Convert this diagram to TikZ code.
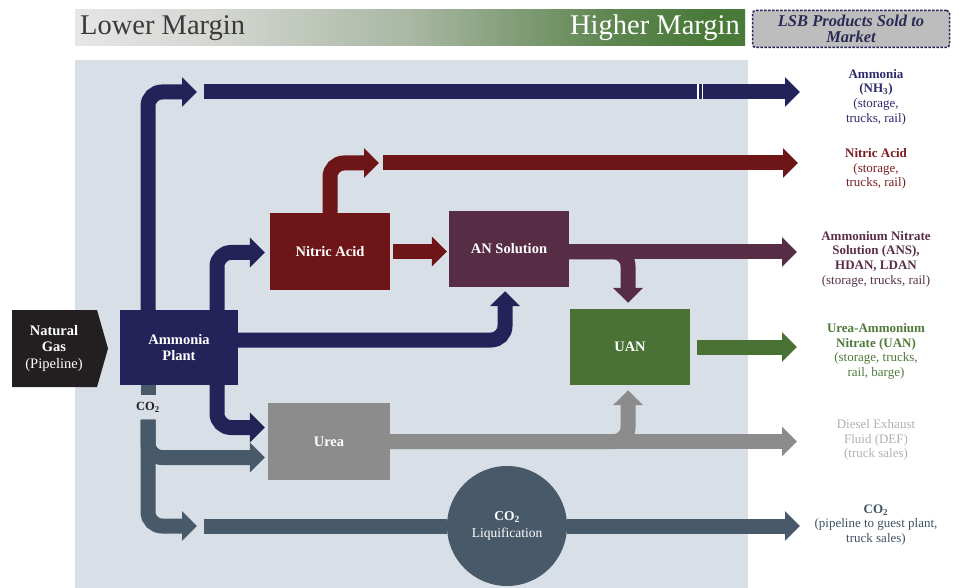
\documentclass[tikz,border=0pt]{standalone}
\usepackage{fontspec}
\setmainfont{Liberation Serif}
\usetikzlibrary{arrows.meta}
\definecolor{navy}{HTML}{23235A}
\definecolor{nred}{HTML}{6E1517}
\definecolor{plum}{HTML}{572D46}
\definecolor{grn}{HTML}{4A7234}
\definecolor{ugrey}{HTML}{8C8C8C}
\definecolor{slate}{HTML}{485A6A}
\definecolor{bgc}{HTML}{D8DFE6}
\definecolor{ngc}{HTML}{231F20}
\definecolor{lsbfill}{HTML}{BDBDBD}
\definecolor{lsbtext}{HTML}{2A2A55}
\definecolor{hdark}{HTML}{3A3A3A}
\definecolor{navytext}{HTML}{2B2B6B}
\definecolor{redtext}{HTML}{7A1C1F}
\definecolor{plumtext}{HTML}{5A2E48}
\definecolor{grntext}{HTML}{4F7A3A}
\definecolor{greytext}{HTML}{B0B0B0}
\definecolor{slatetext}{HTML}{3F5160}
\definecolor{hc1}{HTML}{E6E6E6}
\definecolor{hc2}{HTML}{D5D7D3}
\definecolor{hc3}{HTML}{A9B7A3}
\definecolor{hc4}{HTML}{5E8650}
\definecolor{hc5}{HTML}{4A7A3A}
\pgfdeclarehorizontalshading{marg}{100bp}{color(0bp)=(hc1); color(25bp)=(hc1); color(35bp)=(hc2); color(50bp)=(hc3); color(65bp)=(hc4); color(72bp)=(hc5); color(100bp)=(hc5)}
\begin{document}
\begin{tikzpicture}[x=1pt,y=-1pt,
  box/.style={inner sep=0pt, minimum width=120pt, minimum height=76pt, text=white,
    font=\fontsize{14.5}{16}\selectfont\bfseries, align=center},
  flow/.style={line width=15pt, rounded corners=14pt},
  arr/.style={-{Triangle[width=29pt,length=15pt]}},
  lab/.style={align=center, font=\fontsize{13}{14.7}\selectfont, inner sep=0pt},
  lsbbox/.style={draw=navy, fill=lsbfill, line width=1.5pt, dash pattern=on 2.5pt off 1.5pt,
    rounded corners=3pt, minimum width=197pt, minimum height=37pt, inner sep=0pt,
    text=lsbtext, align=center, font=\fontsize{16.5}{16}\selectfont\bfseries\itshape}
]
\useasboundingbox (0,0) rectangle (959,588);
% header
\shade[shading=marg] (75,10) rectangle (745,46);
\node[anchor=west, inner sep=0pt, font=\fontsize{28.5}{30}\selectfont, text=hdark] (hdrL) at (80,28) {Lower Margin};
\node[anchor=east, inner sep=0pt, font=\fontsize{28.5}{30}\selectfont, text=white] (hdrR) at (740,28) {Higher Margin};
\node[lsbbox] (lsb) at (851,29) {LSB Products Sold to\\Market};
% background panel
\fill[bgc] (75,60) rectangle (748,588);
% natural gas
\fill[ngc] (12,310) -- (97,310) -- (108,348.5) -- (97,387) -- (12,387) -- cycle;
\node[align=center, text=white, inner sep=0pt, font=\fontsize{14.5}{16.5}\selectfont] (ng) at (54,348.5)
  {\textbf{Natural}\\\textbf{Gas}\\(Pipeline)};
% process nodes
\node[box, fill=navy, minimum width=118pt, minimum height=75pt] (amm) at (179,347.5) {Ammonia\\Plant};
\node[box, fill=nred, minimum height=77pt] (nit) at (330,251.5) {Nitric Acid};
\node[box, fill=plum] (ans) at (509,249) {AN Solution};
\node[box, fill=grn] (uan) at (630,347) {UAN};
\node[box, fill=ugrey, minimum width=122pt, minimum height=77pt] (urea) at (329,441.5) {Urea};
\node[inner sep=0pt, minimum height=24pt, font=\fontsize{12.5}{14}\selectfont\bfseries, text=ngc] (co2) at (148,407.5) {CO\textsubscript{2}};
% coordinates
\coordinate (x148) at (148,0);
\coordinate (x217) at (217,0);
\coordinate (x330) at (330,0);
\coordinate (nh3a) at (197,92);
\coordinate (nh3s) at (204,92);
\coordinate (nh3e) at (800,92);
\coordinate (hno3a) at (379,163);
\coordinate (hno3s) at (383,163);
\coordinate (hno3e) at (798,163);
\coordinate (anse) at (797,252);
\coordinate (uane) at (797,347);
\coordinate (ureae) at (797,441.5);
\coordinate (co2a) at (197,526);
\coordinate (co2s) at (204,526);
\coordinate (co2e) at (800,526);
% ammonia flows
\draw[flow,arr,navy] (amm.north -| x148) |- (nh3a);
\draw[flow,arr,navy] (nh3s) -- (nh3e);
\draw[white, line width=1.2pt] (698,84.5) -- (698,99.5);
\draw[white, line width=1.2pt] (702.5,84.5) -- (702.5,99.5);
\draw[flow,arr,navy,shorten >=5pt] (amm.north -| x217) |- ([yshift=-1pt]nit.west);
\draw[flow,arr,navy,shorten >=4pt] ([yshift=7.5pt]amm.east) -| ([xshift=-4pt]ans.south);
\draw[flow,arr,navy,shorten >=3pt] (amm.south -| x217) |- ([yshift=14pt]urea.west);
% nitric acid flows
\draw[flow,arr,nred] (nit.north -| x330) |- (hno3a);
\draw[flow,arr,nred] (hno3s) -- (hno3e);
\draw[flow,arr,nred,shorten <=3pt,shorten >=2pt] (nit.east) -- (nit.east -| ans.west);
% AN solution flows
\draw[flow,arr,plum] ([yshift=-3pt]ans.east) -- (anse);
\draw[flow,arr,plum,shorten >=6pt] ([yshift=-3pt]ans.east) -| ([xshift=-2pt]uan.north);
% UAN
\draw[flow,arr,grn,shorten <=7pt] (uan.east) -- (uane);
% urea
\draw[flow,arr,ugrey] (urea.east) -- (ureae);
\draw[flow,arr,ugrey,shorten >=5pt] (urea.east) -| ([xshift=-2pt]uan.south);
% CO2
\draw[flow,slate] (amm.south -| x148) -- (co2.north);
\draw[flow,arr,slate,shorten >=3pt] (co2.south) |- ([yshift=-16pt]urea.west);
\draw[flow,arr,slate] (co2.south) |- (co2a);
\node[circle, fill=slate, minimum size=120pt, inner sep=0pt, text=white, align=center,
  font=\fontsize{13.5}{17}\selectfont] (liq) at (507,526) {\textbf{CO\textsubscript{2}}\\Liquification};
\draw[flow,slate] (co2s) -- (liq.west);
\draw[flow,arr,slate] (liq.east) -- (co2e);
% market labels
\node[lab, text=navytext] (lNH3) at (876,97) {\textbf{Ammonia}\\\textbf{(NH\textsubscript{3})}\\(storage,\\trucks, rail)};
\node[lab, text=redtext] (lHNO3) at (876,169) {\textbf{Nitric Acid}\\(storage,\\trucks, rail)};
\node[lab, text=plumtext] (lANS) at (876,259) {\textbf{Ammonium Nitrate}\\\textbf{Solution (ANS),}\\\textbf{HDAN, LDAN}\\(storage, trucks, rail)};
\node[lab, text=grntext] (lUAN) at (876,351.5) {\textbf{Urea-Ammonium}\\\textbf{Nitrate (UAN)}\\(storage, trucks,\\rail, barge)};
\node[lab, text=greytext] (lDEF) at (876,440) {Diesel Exhaust\\Fluid (DEF)\\(truck sales)};
\node[lab, text=slatetext] (lCO2) at (876,525) {\textbf{CO\textsubscript{2}}\\(pipeline to guest plant,\\truck sales)};
\end{tikzpicture}
\end{document}
